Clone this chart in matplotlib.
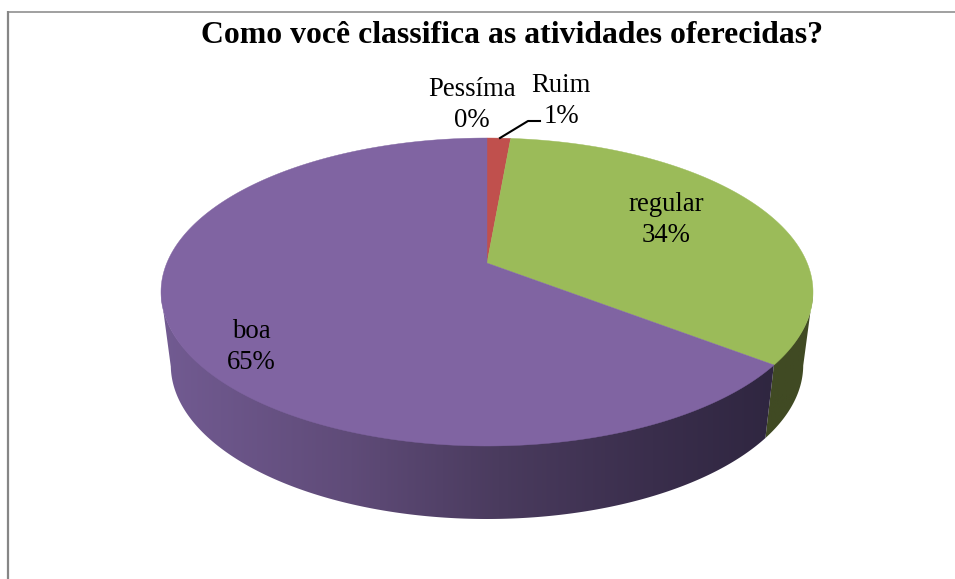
import numpy as np
import matplotlib
matplotlib.use("Agg")
import matplotlib.pyplot as plt
from matplotlib.colors import LinearSegmentedColormap
from matplotlib.patches import Polygon

plt.rcParams['font.family'] = ['Liberation Serif', 'DejaVu Serif']

categories = ["Pessíma", "Ruim", "regular", "boa"]
shown_pct = ["0%", "1%", "34%", "65%"]
# slice sizes, they round to the labels
values = [0.0, 1.4, 34.0, 64.6]
colors = ["#4F81BD", "#C0504D", "#9BBB59", "#8064A2"]
title = "Como você classifica as atividades oferecidas?"

# pie geometry in image pixels
cx, cy = 487, 292
rx, ry = 326, 154
depth = 73
shrink = 0.97    # bottom rim is a bit narrower (perspective)
a = 0.188        # moves the apex of the slices above the ellipse centre


def project(t):
    # t = clockwise angle from the top, radians. circle -> tilted ellipse
    u, v = np.sin(t), np.cos(t)
    d = 1 + a * v
    return u * np.sqrt(1 - a ** 2) / d, (v + a) / d


def rim(t, bottom=False, inset=1.0):
    u, v = project(t)
    if bottom:
        return cx + shrink * rx * u, cy - ry * v + depth
    return cx + rx * u, cy - inset * ry * v


# wall shading, from left to right
wall_x0, wall_x1 = 160, 830
wall_stops = [(0.0, "#725B92"), (0.285, "#5F4B78"), (0.505, "#4A3B5E"),
              (0.735, "#3A2E4C"), (0.918, "#2F2640"), (1.0, "#2F2640")]
wall_cmap = LinearSegmentedColormap.from_list("wall", wall_stops)
green_cmap = LinearSegmentedColormap.from_list("wall2", ["#404A23", "#404A23"])

fig = plt.figure(figsize=(9.55, 5.79), dpi=100)
ax = fig.add_axes([0, 0, 1, 1])

# chart border, only top and left are visible
ax.plot([8, 8], [579, 11], color="#868686", lw=1.6, solid_capstyle="butt")
ax.plot([7, 955], [11.5, 11.5], color="#868686", lw=1.1, solid_capstyle="butt")

edges = np.cumsum([0] + values) / sum(values) * 2 * np.pi
gradient = np.linspace(0, 1, 256).reshape(1, -1)

# side walls, front half only
for i in range(len(values)):
    if values[i] == 0:
        continue
    ts = np.linspace(edges[i], edges[i + 1], 400)
    ts = ts[project(ts)[1] <= 0.0]
    if len(ts) < 2:
        continue
    xa, ya = rim(ts, inset=0.985)
    xb, yb = rim(ts, True)
    outline = np.c_[np.r_[xa, xb[::-1]], np.r_[ya, yb[::-1]]]
    cmap = wall_cmap if categories[i] == "boa" else green_cmap
    im = ax.imshow(gradient, cmap=cmap, extent=(wall_x0, wall_x1, 530, 260), aspect="auto", zorder=1)
    im.set_clip_path(Polygon(outline, closed=True, transform=ax.transData))

# top face
apex_x, apex_y = cx, cy - ry * a
for i in range(len(values)):
    if values[i] == 0:
        continue
    ts = np.linspace(edges[i], edges[i + 1], 300)
    xs, ys = rim(ts)
    ax.fill(np.r_[apex_x, xs], np.r_[apex_y, ys], color=colors[i], lw=0.3, zorder=2)

ax.text(511.5, 35.5, title, fontsize=22.9, fontweight="bold", ha="center", va="center", color="black")

label_pos = [(472, 105), (561, 101), (666, 220), (251, 347)]
for name, pct, (lx, ly) in zip(categories, shown_pct, label_pos):
    ax.text(lx, ly, name + "\n" + pct, fontsize=19.3, ha="center", va="center",
            linespacing=1.3, color="black", zorder=4)

# leader line for Ruim
ax.plot([500, 528, 540], [138, 121, 121], color="black", lw=1.5, zorder=3)

ax.set_xlim(0, 955)
ax.set_ylim(579, 0)
ax.axis("off")

fig.savefig("out.png", dpi=100)
